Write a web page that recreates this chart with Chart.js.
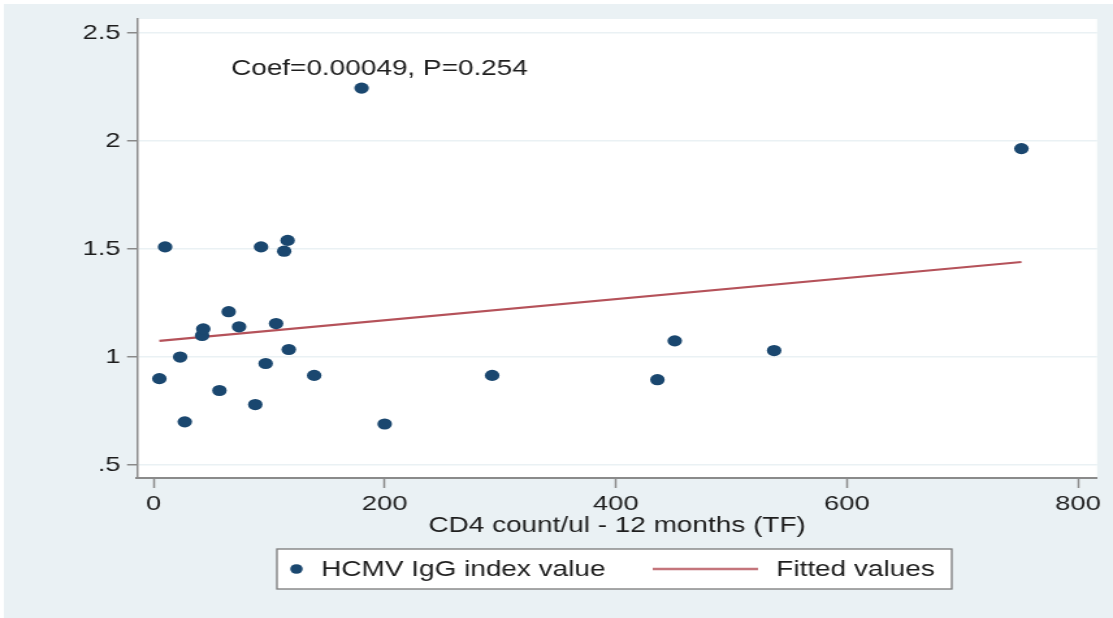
<!DOCTYPE html>
<html>
<head>
<meta charset="utf-8">
<script src="https://cdn.jsdelivr.net/npm/chart.js@4.4.1/dist/chart.umd.min.js"></script>
<style>
    html, body { margin: 0; padding: 0; background: #fff; overflow: hidden; }
    /* the picture is stretched sideways, so the chart is drawn narrow and widened */
    #wrap { width: 856px; height: 618px; transform: scaleX(1.3002); transform-origin: 0 0; }
</style>
</head>
<body>
<div id="wrap"><canvas id="cd4_graph" width="856" height="618"></canvas></div>
<script>
// Data
    const cd4Count = [5, 10, 23, 27, 42, 43, 57, 65, 74, 88, 93, 97, 106, 113, 116, 117, 139, 180, 200, 293, 436, 451, 537, 751];
    const iggIndex = [0.90, 1.51, 1.00, 0.70, 1.10, 1.13, 0.845, 1.21, 1.14, 0.78, 1.51, 0.97, 1.155, 1.49, 1.54, 1.035, 0.915, 2.245, 0.69, 0.915, 0.895, 1.075, 1.03, 1.965];
    const fittedX = [5, 751];
    const fittedY = [1.075, 1.44];
    const xTicks = [0, 200, 400, 600, 800];
    const yTicks = [0.5, 1, 1.5, 2, 2.5];
    const yTickLabels = ['.5', '1', '1.5', '2', '2.5'];
    const seriesNames = ['HCMV IgG index value', 'Fitted values'];
    const noteText = 'Coef=0.00049, P=0.254';
    const notePos = {x: 67, y: 2.333};

// Styles
    const dotColor = '#1a476f';
    const fitColor = '#b5525a';
    const panelColor = '#eaf1f4';
    const axisColor = '#8a8a8a';
    const textColor = '#1e1e1e';
    const fontFamily = "'Liberation Sans', Arial, sans-serif";

    Chart.defaults.font.family = fontFamily;
    Chart.defaults.color = textColor;

// Backgrounds, note and the Stata style legend box
    const stataLook =
    {
        id: 'stataLook'
        ,beforeDraw: (chart) =>
        {
            const {ctx, chartArea: a} = chart;
            ctx.save();
            ctx.fillStyle = panelColor;
            ctx.fillRect(3, 4, chart.width - 3, chart.height - 4);
            ctx.fillStyle = '#fff';
            ctx.fillRect(a.left, a.top, a.right - a.left, a.bottom - a.top);
            ctx.restore();
        }
        ,afterDatasetsDraw: (chart) =>
        {
            const {ctx, scales: {x, y}} = chart;
            ctx.save();
            ctx.font = '21.5px ' + fontFamily;
            ctx.fillStyle = textColor;
            ctx.textAlign = 'left';
            ctx.textBaseline = 'middle';
            ctx.fillText(noteText, x.getPixelForValue(notePos.x), y.getPixelForValue(notePos.y));
            ctx.restore();
        }
        ,afterDraw: (chart) =>
        {
            const ctx = chart.ctx;
            const box = {left: 213, top: 549, width: 519, height: 40};
            const cy = box.top + box.height / 2;
            ctx.save();
            ctx.fillStyle = '#fff';
            ctx.fillRect(box.left, box.top, box.width, box.height);
            ctx.strokeStyle = '#7a7a7a';
            ctx.lineWidth = 1.3;
            ctx.strokeRect(box.left, box.top, box.width, box.height);

            ctx.fillStyle = dotColor;
            ctx.beginPath();
            ctx.arc(228, cy, 4.8, 0, Math.PI * 2);
            ctx.fill();

            ctx.strokeStyle = fitColor;
            ctx.globalAlpha = 0.8;
            ctx.lineWidth = 2.5;
            ctx.beginPath();
            ctx.moveTo(502, cy);
            ctx.lineTo(583, cy);
            ctx.stroke();
            ctx.globalAlpha = 1;

            ctx.font = '21.5px ' + fontFamily;
            ctx.fillStyle = textColor;
            ctx.textAlign = 'left';
            ctx.textBaseline = 'middle';
            ctx.fillText(seriesNames[0], 247, cy + 1);
            ctx.fillText(seriesNames[1], 597, cy + 1);
            ctx.restore();
        }
    };

// Chart
    const createChart = () =>
    {
        const ctx = document.getElementById('cd4_graph');

        new Chart(ctx,
        {
            type: 'scatter'
            ,data: {
                datasets:
                [
                    {
                        label: seriesNames[0]
                        ,data: cd4Count.map((v, i) => ({x: v, y: iggIndex[i]}))
                        ,backgroundColor: dotColor
                        ,borderWidth: 0
                        ,pointRadius: 5.6
                    }
                    ,{
                        label: seriesNames[1]
                        ,type: 'line'
                        ,data: fittedX.map((v, i) => ({x: v, y: fittedY[i]}))
                        ,borderColor: fitColor
                        ,borderWidth: 2.2
                        ,pointRadius: 0
                        ,fill: false
                    }
                ]
            }
            ,options:
            {
                responsive: false
                ,animation: false
                ,layout: {padding: {top: 19, right: 12.2, left: 0, bottom: 0}}
                ,plugins: {legend: {display: false}, tooltip: {enabled: false}}
                ,scales:
                {
                    x: {
                        type: 'linear'
                        ,min: -14.3
                        ,max: 816.5
                        ,afterFit: (s) => { s.height = 140; }
                        ,afterBuildTicks: (s) => { s.ticks = xTicks.map((v) => ({value: v})); }
                        ,ticks: {font: {size: 21}, padding: 4, maxRotation: 0, color: textColor}
                        ,grid: {drawOnChartArea: false, drawTicks: true, tickLength: 10, tickColor: axisColor, tickWidth: 1.5}
                        ,border: {display: true, color: axisColor, width: 2}
                        ,title: {
                            display: true
                            ,text: 'CD4 count/ul - 12 months (TF)'
                            ,font: {size: 21.5}
                            ,color: textColor
                            ,padding: {top: 0, bottom: 79}
                        }
                    }
                    ,y: {
                        min: 0.44
                        ,max: 2.565
                        ,afterFit: (s) => { s.width = 105.4; }
                        ,afterBuildTicks: (s) => { s.ticks = yTicks.map((v) => ({value: v})); }
                        ,ticks: {
                            font: {size: 21}
                            ,padding: 5
                            ,color: textColor
                            ,callback: (v) => yTickLabels[yTicks.indexOf(v)]
                        }
                        ,grid: {color: panelColor, lineWidth: 1.5, drawTicks: true, tickLength: 7.7, tickColor: axisColor, tickWidth: 1.5}
                        ,border: {display: true, color: axisColor, width: 1.5}
                    }
                }
            }
            ,plugins: [stataLook]
        });
    };
    createChart();
</script>
</body>
</html>
